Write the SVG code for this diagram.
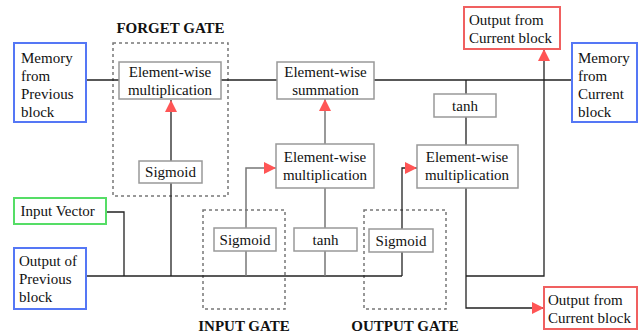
<svg xmlns="http://www.w3.org/2000/svg" width="639" height="335" viewBox="0 0 639 335" font-family="'Liberation Serif', 'Times New Roman', 'DejaVu Serif', serif">
<style>
text{font-family:'Liberation Serif','Times New Roman','DejaVu Serif',serif;font-size:15px;fill:#111}
.c{text-anchor:middle}
.lbl{font-weight:bold;text-anchor:middle}
.box{fill:#fff;stroke:#999;stroke-width:1.5}
.blue{fill:#fff;stroke:#5577f5;stroke-width:2}
.green{fill:#fff;stroke:#55dd66;stroke-width:2}
.red{fill:#fff;stroke:#f06060;stroke-width:2}
.gate{fill:none;stroke:#777;stroke-width:1.5;stroke-dasharray:3 3}
.ln{fill:none;stroke:#222;stroke-width:1.3}
.lg{fill:none;stroke:#777;stroke-width:1.5}
.arr{marker-end:url(#ah)}
</style>
<defs>
<marker id="ah" viewBox="0 0 12 12" refX="12" refY="6" markerWidth="12" markerHeight="12" markerUnits="userSpaceOnUse" orient="auto">
<path d="M0,0 L12,6 L0,12 z" fill="#f55"/>
</marker>
</defs>
<g id="gates">
<rect class="gate" x="113" y="43" width="115" height="153"/>
<text class="lbl" x="170.5" y="33">FORGET GATE</text>
<rect class="gate" x="203" y="210" width="82" height="99"/>
<text class="lbl" x="244" y="331">INPUT GATE</text>
<rect class="gate" x="364" y="210" width="82" height="99"/>
<text class="lbl" x="405" y="331">OUTPUT GATE</text>
</g>
<g id="connectors">
<path class="ln" d="M86,80 H119 M221,80 H277 M374,80 H572"/>
<path class="ln" d="M171,183 V276"/>
<path class="ln arr" d="M171,161 V100"/>
<path class="ln" d="M86,276 H402"/>
<path class="ln" d="M106,212 H124 V276"/>
<path class="lg" d="M246,251 V276"/>
<path class="lg arr" d="M246,228 V168 H276"/>
<path class="lg" d="M325,188 V228 M325,251 V276"/>
<path class="lg arr" d="M325,144 V99"/>
<path class="ln" d="M402,252 V276"/>
<path class="ln arr" d="M402,229 V168 H417"/>
<path class="ln" d="M466,80 V94 M466,117 V145"/>
<path class="ln arr" d="M466,188 V308 H544"/>
<path class="ln arr" d="M466,276 H544 V49"/>
</g>
<g id="mem-prev"><rect class="blue" x="14" y="43" width="72" height="79"/>
<text x="21" y="62.5">Memory</text><text x="21" y="80.5">from</text><text x="21" y="98.5">Previous</text><text x="21" y="116.5">block</text></g>
<g id="forget-mult"><rect class="box" x="119" y="62" width="102" height="37"/>
<text class="c" x="170" y="77">Element-wise</text><text class="c" x="170" y="95">multiplication</text></g>
<g id="forget-sigmoid"><rect class="box" x="139" y="161" width="63" height="22"/>
<text class="c" x="170.5" y="177">Sigmoid</text></g>
<g id="summation"><rect class="box" x="277" y="62" width="97" height="37"/>
<text class="c" x="325.5" y="77">Element-wise</text><text class="c" x="325.5" y="95">summation</text></g>
<g id="input-mult"><rect class="box" x="276" y="144" width="98" height="44"/>
<text class="c" x="325" y="162">Element-wise</text><text class="c" x="325" y="180">multiplication</text></g>
<g id="output-mult"><rect class="box" x="417" y="145" width="101" height="43"/>
<text class="c" x="467" y="162">Element-wise</text><text class="c" x="467" y="180">multiplication</text></g>
<g id="tanh-top"><rect class="box" x="434" y="94" width="62" height="23"/>
<text class="c" x="465" y="111">tanh</text></g>
<g id="out-top"><rect class="red" x="464" y="7" width="96" height="42"/>
<text x="469" y="25">Output from</text><text x="469" y="43">Current block</text></g>
<g id="mem-cur"><rect class="blue" x="572" y="43" width="65" height="79"/>
<text x="578" y="62.5">Memory</text><text x="578" y="80.5">from</text><text x="578" y="98.5">Current</text><text x="578" y="116.5">block</text></g>
<g id="input-vector"><rect class="green" x="14" y="198" width="92" height="26"/>
<text x="20.5" y="216">Input Vector</text></g>
<g id="out-prev"><rect class="blue" x="14" y="248" width="72" height="61"/>
<text x="19" y="266">Output of</text><text x="19" y="284">Previous</text><text x="19" y="302">block</text></g>
<g id="input-sigmoid"><rect class="box" x="214" y="228" width="62" height="23"/>
<text class="c" x="245" y="244.5">Sigmoid</text></g>
<g id="tanh-bottom"><rect class="box" x="294" y="228" width="63" height="23"/>
<text class="c" x="325.5" y="244.5">tanh</text></g>
<g id="output-sigmoid"><rect class="box" x="369" y="229" width="64" height="23"/>
<text class="c" x="401" y="245.5">Sigmoid</text></g>
<g id="out-bottom"><rect class="red" x="544" y="287" width="93" height="42"/>
<text x="548" y="305">Output from</text><text x="548" y="323">Current block</text></g>
</svg>
